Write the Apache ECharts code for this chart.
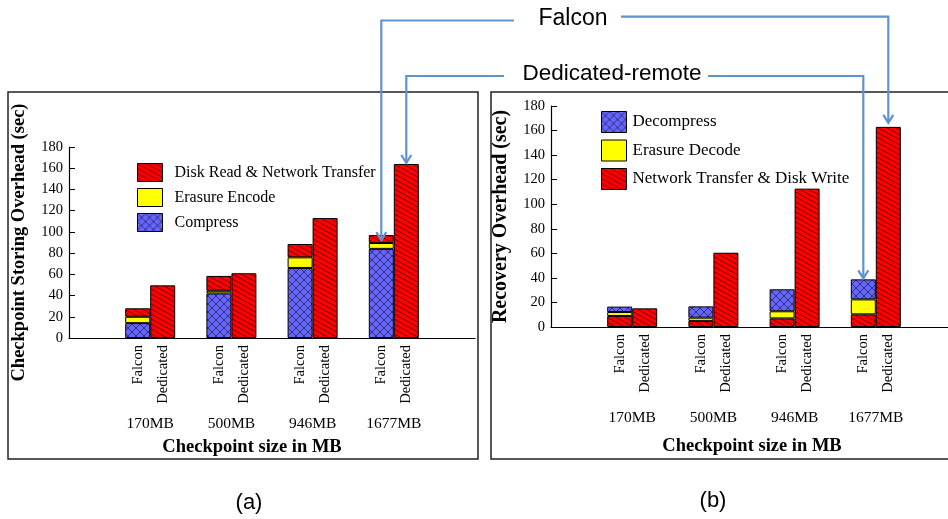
<!DOCTYPE html>
<html><head><meta charset="utf-8">
<script src="https://cdn.jsdelivr.net/npm/echarts@6/dist/echarts.min.js"></script>
<style>html,body{margin:0;padding:0;background:#fff}#c{width:948px;height:519px}</style>
</head><body><div id="c"></div>
<script>
// ---------- data ----------
const sizes = ['170MB', '500MB', '946MB', '1677MB'];
const barNames = ['Falcon', 'Dedicated'];
// (a) Checkpoint storing overhead (sec)
const storeCompress        = [14, 42, 66, 84];
const storeErasureEncode   = [6, 2.5, 10, 5.5];
const storeFalconTransfer  = [8, 14, 12.6, 7.5];
const storeDedicatedTransfer = [49.6, 61, 113, 164];
// (b) Recovery overhead (sec)
const recFalconTransfer    = [9, 5, 7, 10.3];
const recErasureDecode     = [3.2, 2.6, 5.8, 12.2];
const recDecompress        = [4.4, 9.2, 17.9, 16.3];
const recDedicatedTransfer = [15.2, 60.5, 112.7, 163];
const yMin = 0, yMax = 180, yStep = 20;

// ---------- helpers ----------
const BAR_W = 25;
const cats = ['', ...sizes, ''];
const pad = a => [null, ...a, null];
const SERIF = '"Liberation Serif", "Times New Roman", serif';
const SANS = '"Liberation Sans", Arial, sans-serif';

function hatchRed() {
  const w = 9, h = 5;
  const c = document.createElement('canvas'); c.width = w; c.height = h;
  const g = c.getContext('2d');
  g.fillStyle = '#ff0000'; g.fillRect(0, 0, w, h);
  g.strokeStyle = 'rgba(0,0,0,0.75)'; g.lineWidth = 0.7;
  g.beginPath();
  g.moveTo(-w, -h); g.lineTo(2 * w, 2 * h);
  g.moveTo(-w, 0); g.lineTo(w, 2 * h);
  g.moveTo(0, -h); g.lineTo(2 * w, h);
  g.stroke();
  return { image: c, repeat: 'repeat' };
}
function crossBlue() {
  const s = 8;
  const c = document.createElement('canvas'); c.width = s; c.height = s;
  const g = c.getContext('2d');
  g.fillStyle = '#6666ff'; g.fillRect(0, 0, s, s);
  g.strokeStyle = 'rgba(0,0,0,0.75)'; g.lineWidth = 0.7;
  g.beginPath();
  g.moveTo(-1, -1); g.lineTo(s + 1, s + 1);
  g.moveTo(s + 1, -1); g.lineTo(-1, s + 1);
  g.stroke();
  return { image: c, repeat: 'repeat' };
}
const RED = hatchRed(), BLUE = crossBlue(), YEL = '#ffff00';

function barLabel(text) {
  return {
    show: true, position: 'bottom', distance: 7, rotate: 90,
    align: 'right', verticalAlign: 'middle',
    formatter: text, fontFamily: SERIF, fontSize: 14.5, color: '#000'
  };
}
function bar(name, data, stack, color, gi, label) {
  return {
    type: 'bar', name, data: pad(data), stack, barWidth: BAR_W, barGap: '0%',
    xAxisIndex: gi, yAxisIndex: gi,
    itemStyle: { color, borderColor: '#000', borderWidth: 1 },
    label: label ? barLabel(label) : { show: false },
    emphasis: { disabled: true }
  };
}
function xAxis(gi, margin) {
  return {
    type: 'category', gridIndex: gi, data: cats, boundaryGap: false,
    axisLine: { show: true, lineStyle: { color: '#000', width: 1.2 } },
    axisTick: { show: false },
    axisLabel: { interval: 0, margin, fontFamily: SERIF, fontSize: 15.5, color: '#000' },
    splitLine: { show: false }
  };
}
function yAxis(gi, name, nameSize, gap) {
  return {
    type: 'value', gridIndex: gi, min: yMin, max: yMax, interval: yStep,
    name, nameLocation: 'middle', nameGap: gap,
    nameTextStyle: { fontFamily: SERIF, fontWeight: 'bold', fontSize: nameSize, color: '#000' },
    axisLine: { show: true, lineStyle: { color: '#000', width: 1.2 } },
    axisTick: { show: true, inside: true, length: 6, lineStyle: { color: '#000' } },
    axisLabel: { margin: 6, fontFamily: SERIF, fontSize: 14.5, color: '#000' },
    splitLine: { show: false }
  };
}
function legend(left, top, data, h, gap, fs, tpad) {
  return {
    orient: 'vertical', left, top, data, icon: 'rect',
    itemWidth: 25, itemHeight: h, itemGap: gap, selectedMode: false,
    itemStyle: { borderColor: '#000', borderWidth: 1 },
    textStyle: { fontFamily: SERIF, fontSize: fs, color: '#000', padding: [0, 0, 0, tpad] }
  };
}

const chart = echarts.init(document.getElementById('c'), null, { renderer: 'canvas' });
chart.setOption({
  backgroundColor: '#fff',
  animation: false,
  grid: [
    { left: 69, top: 147, width: 406, height: 191, outerBoundsMode: 'none' },
    { left: 551, top: 106, width: 406, height: 221, outerBoundsMode: 'none' }
  ],
  xAxis: [xAxis(0, 78), xAxis(1, 83)],
  yAxis: [yAxis(0, 'Checkpoint Storing Overhead (sec)', 18.5, 40), yAxis(1, 'Recovery Overhead (sec)', 20, 40)],
  legend: [
    legend(132, 158, ['Disk Read & Network Transfer', 'Erasure Encode', 'Compress'], 18, 6, 16, 7),
    legend(596, 106, ['Decompress', 'Erasure Decode', 'Network Transfer & Disk Write'], 21, 6.5, 17, 1)
  ],
  series: [
    bar('Compress', storeCompress, 'fa', BLUE, 0, barNames[0]),
    bar('Erasure Encode', storeErasureEncode, 'fa', YEL, 0),
    bar('Disk Read & Network Transfer', storeFalconTransfer, 'fa', RED, 0),
    bar('Disk Read & Network Transfer', storeDedicatedTransfer, 'da', RED, 0, barNames[1]),
    bar('Network Transfer & Disk Write', recFalconTransfer, 'fb', RED, 1, barNames[0]),
    bar('Erasure Decode', recErasureDecode, 'fb', YEL, 1),
    bar('Decompress', recDecompress, 'fb', BLUE, 1),
    bar('Network Transfer & Disk Write', recDedicatedTransfer, 'db', RED, 1, barNames[1])
  ]
});

// ---------- annotations (frames, arrows, captions) ----------
const sum = (...arrs) => arrs.reduce((s, a) => s + a[a.length - 1], 0);
const last = sizes.length; // padded index of last category
function barTop(gi, total, side) {
  const p = chart.convertToPixel({ gridIndex: gi }, [last, total]);
  return [p[0] + side * BAR_W / 2, p[1]];
}
const aF  = barTop(0, sum(storeCompress, storeErasureEncode, storeFalconTransfer), -1);
const aD  = barTop(0, sum(storeDedicatedTransfer), 1);
const bF  = barTop(1, sum(recFalconTransfer, recErasureDecode, recDecompress), -1);
const bD  = barTop(1, sum(recDedicatedTransfer), 1);
const BLUE_LINE = '#5f93cc';
function connector(pts, tip) {
  const [x, y] = tip;
  return [
    { type: 'polyline', z: 100, shape: { points: pts.concat([[x, y]]) },
      style: { stroke: BLUE_LINE, lineWidth: 2.2, fill: null } },
    { type: 'polyline', z: 100, shape: { points: [[x - 5, y - 8], [x, y], [x + 5, y - 8]] },
      style: { stroke: BLUE_LINE, lineWidth: 2.2, fill: null } }
  ];
}
function text(t, x, y, font) {
  return { type: 'text', z: 100, x, y,
    style: { text: t, font, fill: '#000', textAlign: 'center', textVerticalAlign: 'middle', align: 'center', verticalAlign: 'middle' } };
}
const tipAF = [aF[0], aF[1] + 5], tipAD = [aD[0], aD[1] - 1];
const tipBF = [bF[0], bF[1] - 1], tipBD = [bD[0], bD[1] - 4];
chart.setOption({
  graphic: [
    { type: 'rect', z: 90, shape: { x: 8, y: 92, width: 470, height: 367 }, style: { fill: null, stroke: '#222', lineWidth: 1.5 } },
    { type: 'rect', z: 90, shape: { x: 491, y: 92, width: 470, height: 367 }, style: { fill: null, stroke: '#222', lineWidth: 1.5 } },
    ...connector([[514, 20.5], [tipAF[0], 20.5]], tipAF),
    ...connector([[621, 16.7], [tipBD[0], 16.7]], tipBD),
    ...connector([[504, 76], [tipAD[0], 76]], tipAD),
    ...connector([[708, 76], [tipBF[0], 76]], tipBF),
    text('Falcon', 573, 19, '23px ' + SANS),
    text('Dedicated-remote', 612, 74, '22.5px ' + SANS),
    text('Checkpoint size in MB', 252, 447, 'bold 18.5px ' + SERIF),
    text('Checkpoint size in MB', 752, 446, 'bold 18.5px ' + SERIF),
    text('(a)', 249, 503, '22px ' + SANS),
    text('(b)', 713, 501, '22px ' + SANS)
  ]
});
</script></body></html>
